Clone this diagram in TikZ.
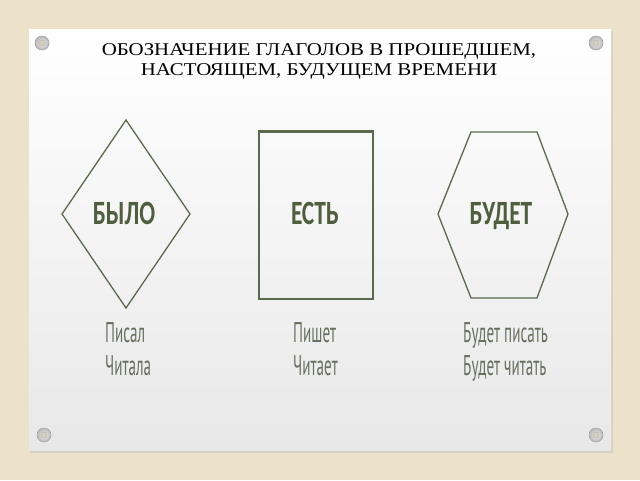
\documentclass[tikz,border=0pt]{standalone}
\usepackage{fontspec}
\setmainfont{Liberation Serif}
\newfontfamily\lblfont{Carlito}
\newfontfamily\smallfont{PT Sans}
\usetikzlibrary{calc}
\definecolor{canvas}{HTML}{ECE2CA}
\definecolor{olive}{HTML}{5B6A4B}
\definecolor{oliveText}{HTML}{4F5E3D}
\definecolor{greyText}{HTML}{6A7060}
\newcommand{\bw}[1]{\scalebox{0.69}[1]{#1}}
\newcommand{\sw}[1]{\scalebox{0.53}[1]{#1}}
\newcommand{\tw}[1]{\scalebox{1.16}[1]{#1}}
\tikzset{
  shapeline/.style={draw=olive, line width=1.3pt, line join=miter},
  bigword/.style={font=\lblfont\bfseries\fontsize{34}{34}\selectfont, text=oliveText, anchor=base, inner sep=0pt},
  smallword/.style={font=\smallfont\fontsize{28.5}{33}\selectfont, text=greyText, anchor=base west, inner sep=0pt},
  titleline/.style={font=\fontsize{18}{20}\selectfont, anchor=base, inner sep=0pt},
  screw/.style={circle, minimum size=14pt, inner sep=0pt, draw=gray!70, line width=0.6pt, inner color=gray!15, outer color=gray!55},
}
\begin{document}
\begin{tikzpicture}[x=1pt,y=-1pt]
\useasboundingbox (0,0) rectangle (640,480);
\fill[canvas] (0,0) rectangle (640,480);
% shadow
\fill[black!25, opacity=0.5] (30,31) rectangle (613,453);
% board
\shade[top color=white, bottom color=black!9] (29,29) rectangle (611,450);
% screws
\foreach \n/\px/\py in {s1/42/43, s2/596/43, s3/44/435, s4/596/435}{
  \node[screw] (\n) at (\px,\py) {};
  \node[circle, minimum size=6pt, inner sep=0pt, fill=canvas!80!gray, draw=gray!60, line width=0.3pt] at (\px,\py) {};
}
% title
\node[titleline] (title1) at (319,55) {\tw{ОБОЗНАЧЕНИЕ ГЛАГОЛОВ В ПРОШЕДШЕМ,}};
\node[titleline] (title2) at (319,75) {\tw{НАСТОЯЩЕМ, БУДУЩЕМ ВРЕМЕНИ}};
% diamond
\coordinate (dT) at (126,120);
\coordinate (dR) at (190,214);
\coordinate (dB) at (126,308);
\coordinate (dL) at (62,214);
\draw[shapeline] (dT) -- (dR) -- (dB) -- (dL) -- cycle;
\node[bigword] (was) at (124,224) {\bw{БЫЛО}};
% rectangle
\draw[shapeline] (259,131) rectangle (373,299);
\draw[olive, line width=1.5pt] (259,132.5) -- (373,132.5);
\node[bigword] (is) at (315,224) {\bw{ЕСТЬ}};
% hexagon
\coordinate (h1) at (471,132);
\coordinate (h2) at (537,132);
\coordinate (h3) at (568,214);
\coordinate (h4) at (537,298);
\coordinate (h5) at (471,298);
\coordinate (h6) at (438,214);
\draw[shapeline] (h1) -- (h2) -- (h3) -- (h4) -- (h5) -- (h6) -- cycle;
\node[bigword] (will) at (501,224) {\bw{БУДЕТ}};
% lower labels
\node[smallword] (l1a) at (105,342) {\sw{Писал}};
\node[smallword] (l1b) at (105,375) {\sw{Читала}};
\node[smallword] (l2a) at (293,342) {\sw{Пишет}};
\node[smallword] (l2b) at (293,375) {\sw{Читает}};
\node[smallword] (l3a) at (463,342) {\sw{Будет писать}};
\node[smallword] (l3b) at (463,375) {\sw{Будет читать}};
\end{tikzpicture}
\end{document}
